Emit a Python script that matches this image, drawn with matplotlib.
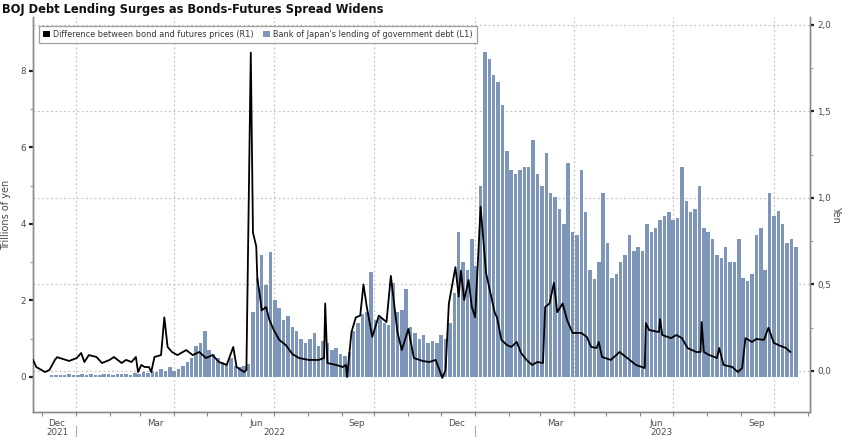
import matplotlib
matplotlib.use('Agg')
import matplotlib.pyplot as plt
import matplotlib.dates as mdates
import matplotlib.ticker as mticker
import matplotlib.transforms as mtransforms
from matplotlib.patches import Patch
import pandas as pd

title = "BOJ Debt Lending Surges as Bonds-Futures Spread Widens"
line_label = "Difference between bond and futures prices (R1)"
bar_label = "Bank of Japan's lending of government debt (L1)"
left_label = "Trillions of yen"
right_label = "Yen"

# Bank of Japan lending (trillions of yen), one bar every 4 days from 2021-12-10
bar_start = "2021-12-10"
bar_step = "4D"
bar_values = [
    0.05, 0.06, 0.04, 0.05, 0.07, 0.06, 0.05, 0.08, 0.06, 0.07,
    0.05, 0.06, 0.08, 0.07, 0.06, 0.09, 0.07, 0.08, 0.06, 0.10,
    0.08, 0.12, 0.10, 0.15, 0.12, 0.20, 0.15, 0.25,
    # from 2022-04-01
    0.15, 0.20, 0.30, 0.40, 0.50, 0.80, 0.90, 1.20, 0.70, 0.60,
    0.50, 0.40, 0.35, 0.50, 0.30, 0.25, 0.30, 0.35, 1.70, 2.60,
    3.20, 2.40, 3.27, 2.00, 1.80, 1.50, 1.60, 1.30, 1.20, 1.00,
    0.90, 1.00, 1.15, 0.80, 0.95, 0.90, 0.70, 0.75, 0.60, 0.55,
    0.65, 1.20, 1.40, 1.65, 1.70, 2.74, 1.50, 1.55, 1.40, 1.35,
    2.45, 1.70, 1.75, 2.30, 1.30, 1.15, 1.00, 1.10, 0.90, 0.95,
    0.90, 1.10, 1.00, 1.40, 2.20, 3.80, 3.00, 2.80, 3.60, 2.90,
    5.00, 8.50, 8.30, 7.90, 7.70, 7.10, 5.90, 5.40, 5.30, 5.40,
    5.50, 5.50, 6.20, 5.30, 5.00, 5.86, 4.80, 4.70, 4.40, 4.00,
    5.60, 3.80, 3.70, 5.40, 4.30, 2.80, 2.55, 3.00, 4.80, 3.50,
    2.60, 2.70, 3.00, 3.20, 3.70, 3.30, 3.40, 3.30, 4.00, 3.80,
    3.90, 4.10, 4.20, 4.30, 4.10, 4.15, 5.50, 4.60, 4.30, 4.40,
    5.00, 3.90, 3.80, 3.60, 3.20, 3.10, 3.40, 3.00, 3.00, 3.60,
    2.60, 2.50, 2.70, 3.70, 3.90, 2.80, 4.80, 4.20, 4.35, 4.00,
    3.50, 3.60, 3.40,
]

# Difference between bond and futures prices (yen)
line_dates = [
    "2021-11-23", "2021-11-26", "2021-12-04", "2021-12-08", "2021-12-13",
    "2021-12-15", "2021-12-20", "2021-12-26", "2022-01-02", "2022-01-06",
    "2022-01-09", "2022-01-13", "2022-01-20", "2022-01-25", "2022-02-01",
    "2022-02-05", "2022-02-12", "2022-02-16", "2022-02-21", "2022-02-25",
    "2022-02-27", "2022-03-02", "2022-03-05", "2022-03-09", "2022-03-11",
    "2022-03-14", "2022-03-20", "2022-03-23", "2022-03-26", "2022-03-30",
    "2022-04-04", "2022-04-12", "2022-04-18", "2022-04-24", "2022-04-30",
    "2022-05-06", "2022-05-12", "2022-05-19", "2022-05-25", "2022-05-28",
    "2022-06-04", "2022-06-06", "2022-06-10", "2022-06-12", "2022-06-15",
    "2022-06-16", "2022-06-18", "2022-06-20", "2022-06-24", "2022-06-27",
    "2022-07-01", "2022-07-06", "2022-07-12", "2022-07-18", "2022-07-24",
    "2022-08-02", "2022-08-11", "2022-08-16", "2022-08-17", "2022-08-19",
    "2022-08-27", "2022-09-02", "2022-09-05", "2022-09-06", "2022-09-10",
    "2022-09-14", "2022-09-18", "2022-09-21", "2022-09-24", "2022-09-29",
    "2022-10-05", "2022-10-12", "2022-10-16", "2022-10-22", "2022-10-26",
    "2022-11-01", "2022-11-06", "2022-11-14", "2022-11-20", "2022-11-26",
    "2022-12-02", "2022-12-05", "2022-12-08", "2022-12-14", "2022-12-17",
    "2022-12-19", "2022-12-22", "2022-12-26", "2022-12-29", "2023-01-01",
    "2023-01-06", "2023-01-11", "2023-01-19", "2023-01-21", "2023-01-25",
    "2023-01-30", "2023-02-03", "2023-02-08", "2023-02-12", "2023-02-17",
    "2023-02-22", "2023-02-27", "2023-03-04", "2023-03-06", "2023-03-10",
    "2023-03-14", "2023-03-17", "2023-03-22", "2023-03-26", "2023-03-31",
    "2023-04-08", "2023-04-13", "2023-04-17", "2023-04-22", "2023-04-24",
    "2023-04-27", "2023-05-05", "2023-05-13", "2023-05-20", "2023-05-28",
    "2023-06-05", "2023-06-06", "2023-06-09", "2023-06-18", "2023-06-19",
    "2023-06-21", "2023-06-29", "2023-07-04", "2023-07-09", "2023-07-14",
    "2023-07-22", "2023-07-26", "2023-07-27", "2023-07-29", "2023-08-03",
    "2023-08-10", "2023-08-12", "2023-08-16", "2023-08-24", "2023-08-29",
    "2023-09-02", "2023-09-05", "2023-09-11", "2023-09-15", "2023-09-22",
    "2023-09-26", "2023-10-01", "2023-10-07", "2023-10-12", "2023-10-16",
]
line_values = [
    0.064, 0.023, -0.006, 0.006, 0.064,
    0.080, 0.070, 0.058, 0.075, 0.104,
    0.052, 0.092, 0.081, 0.046, 0.064,
    0.081, 0.046, 0.064, 0.052, 0.081,
    -0.006, 0.035, 0.023, 0.023, -0.006,
    0.081, 0.092, 0.310, 0.139, 0.110,
    0.092, 0.121, 0.092, 0.110, 0.075,
    0.092, 0.052, 0.035, 0.139, 0.023,
    -0.006, 0.006, 1.840, 0.800, 0.720,
    0.530, 0.450, 0.350, 0.370, 0.295,
    0.237, 0.180, 0.150, 0.098, 0.075,
    0.064, 0.064, 0.075, 0.390, 0.046,
    0.035, 0.023, 0.035, -0.035, 0.225,
    0.310, 0.320, 0.500, 0.370, 0.197,
    0.320, 0.283, 0.550, 0.225, 0.121,
    0.243, 0.075, 0.058, 0.052, 0.064,
    -0.040, 0.006, 0.390, 0.600, 0.430,
    0.580, 0.410, 0.526, 0.370, 0.310,
    0.950, 0.566, 0.335, 0.310, 0.180,
    0.150, 0.139, 0.168, 0.104, 0.064,
    0.035, 0.052, 0.046, 0.370, 0.390,
    0.510, 0.340, 0.390, 0.295, 0.220,
    0.220, 0.197, 0.139, 0.133, 0.168,
    0.081, 0.064, 0.110, 0.075, 0.035,
    0.017, 0.277, 0.237, 0.225, 0.300,
    0.208, 0.190, 0.208, 0.190, 0.133,
    0.110, 0.110, 0.283, 0.110, 0.092,
    0.075, 0.133, 0.035, 0.023, -0.006,
    0.017, 0.190, 0.168, 0.185, 0.180,
    0.250, 0.162, 0.145, 0.133, 0.110,
]

month_labels = ["Dec", "Mar", "Jun", "Sep", "Dec", "Mar", "Jun", "Sep"]
month_label_dates = ["2021-12-15", "2022-03-15", "2022-06-15", "2022-09-15",
                     "2022-12-15", "2023-03-15", "2023-06-15", "2023-09-15"]
year_labels = ["2021", "2022", "2023"]
year_label_dates = ["2021-12-15", "2022-07-02", "2023-06-20"]
year_breaks = ["2022-01-01", "2023-01-01"]
quarter_lines = ["2022-01-01", "2022-04-01", "2022-07-01", "2022-10-01",
                 "2023-01-01", "2023-04-01", "2023-07-01", "2023-10-01"]
x_range = ["2021-11-23", "2023-11-03"]

bar_color = "#7f96bb"
grid_color = "#c4c4c4"
text_color = "#4a4a4a"
spine_color = "#8a8a8a"

bar_dates = pd.date_range(bar_start, periods=len(bar_values), freq=bar_step)
ldates = pd.to_datetime(line_dates)

fig = plt.figure(figsize=(8.48, 4.37), dpi=100)
ax = fig.add_axes([33 / 848, 1 - 412 / 437, (810 - 33) / 848, (412 - 17) / 437])
ax2 = ax.twinx()

ax.bar(bar_dates, bar_values, width=3.2, color=bar_color, linewidth=0, zorder=2)
ax2.plot(ldates, line_values, color="black", linewidth=1.3, zorder=3)

ax.set_xlim(pd.to_datetime(x_range[0]), pd.to_datetime(x_range[1]))
ax.set_ylim(-0.915, 9.41)
ax2.set_ylim(-0.237, 2.046)

# gridlines (behind bars)
blend = mtransforms.blended_transform_factory(ax.transAxes, ax2.transData)
for v in [0.0, 0.5, 1.0, 1.5, 2.0]:
    ax.plot([0, 1], [v, v], transform=blend, color=grid_color, linewidth=0.9,
            linestyle=(0, (1.5, 2)), zorder=0.5)
for d in quarter_lines:
    ax.axvline(pd.to_datetime(d), color=grid_color, linewidth=0.9,
               linestyle=(0, (1.5, 2)), zorder=0.5)

# y axes
ax.yaxis.set_major_locator(mticker.FixedLocator([0, 2, 4, 6, 8]))
ax.yaxis.set_minor_locator(mticker.FixedLocator([1, 3, 5, 7]))
ax.yaxis.set_major_formatter(mticker.FuncFormatter(lambda v, p: f"{v:.0f}"))
ax2.yaxis.set_major_locator(mticker.FixedLocator([0, 0.5, 1.0, 1.5, 2.0]))
ax2.yaxis.set_minor_locator(mticker.FixedLocator([0.25, 0.75, 1.25, 1.75]))
ax2.yaxis.set_major_formatter(mticker.FuncFormatter(lambda v, p: f"{v:.1f}".replace(".", ",")))

for a in (ax, ax2):
    a.tick_params(axis="y", which="major", direction="out", length=3, width=1.6,
                  color="#222222", labelsize=6.3, labelcolor=text_color, pad=2)
    a.tick_params(axis="y", which="minor", direction="out", length=2, width=0.8,
                  color="#999999")
    for s in a.spines.values():
        s.set_color(spine_color)
        s.set_linewidth(1.0)
    a.spines["top"].set_visible(False)

ax.set_ylabel(left_label, fontsize=7, color=text_color, labelpad=7)
ax2.set_ylabel(right_label, fontsize=7, color=text_color, rotation=270, labelpad=7)

# x axis
ax.xaxis.set_major_locator(mticker.FixedLocator(mdates.date2num(pd.to_datetime(month_label_dates))))
ax.xaxis.set_major_formatter(mticker.FixedFormatter(month_labels))
ax.xaxis.set_minor_locator(mdates.MonthLocator())
ax.tick_params(axis="x", which="major", length=0, labelsize=6.3, labelcolor=text_color, pad=5)
ax.tick_params(axis="x", which="minor", direction="out", length=3, width=0.8, color="#888888")
ax2.tick_params(axis="x", which="both", length=0)

xform = ax.get_xaxis_transform()
for lab, d in zip(year_labels, year_label_dates):
    ax.text(pd.to_datetime(d), -0.052, lab, transform=xform, ha="center", va="center",
            fontsize=6.3, color=text_color, clip_on=False)
for d in year_breaks:
    ax.plot([pd.to_datetime(d)] * 2, [-0.035, -0.065], transform=xform, color="#aaaaaa",
            linewidth=0.8, clip_on=False)

# legend
handles = [Patch(facecolor="black", edgecolor="none"), Patch(facecolor=bar_color, edgecolor="none")]
leg = ax2.legend(handles, [line_label, bar_label], loc="upper left", bbox_to_anchor=(0.003, 0.987),
                 ncol=2, fontsize=5.9, frameon=True, fancybox=False, edgecolor="#888888",
                 handlelength=0.8, handleheight=0.8, handletextpad=0.4, columnspacing=1.2,
                 borderpad=0.45, labelcolor="#333333")
leg.get_frame().set_linewidth(0.9)

fig.text(2 / 848, 1 - 9 / 437, title, fontsize=8.3, fontweight="bold", color="#111111",
         ha="left", va="center")

fig.savefig("out.png", dpi=100)
